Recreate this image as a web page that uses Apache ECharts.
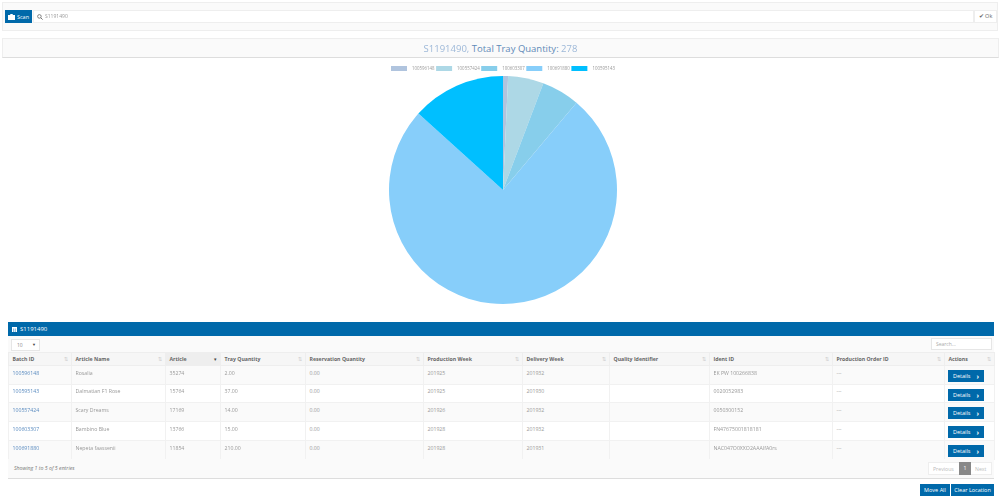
<!DOCTYPE html>
<html>
<head>
<meta charset="utf-8">
<script src="https://cdn.jsdelivr.net/npm/echarts@6/dist/echarts.min.js"></script>
<style>
html, body { margin: 0; padding: 0; width: 1000px; height: 498px; background: #fff; overflow: hidden; font-family: "Open Sans", sans-serif; color: #777; }
.abs { position: absolute; box-sizing: border-box; }
.well { background: #fafafa; border: 1px solid #eee; }
.btn { background: #0069aa; color: #fff; font-size: 5.5px; display: flex; align-items: center; justify-content: center; gap: 2px; }
.blur { filter: blur(0.7px); display: inline-block; }
#chart { position: absolute; left: 0; top: 58px; width: 1000px; height: 262px; }
#table { position: absolute; left: 8px; top: 352px; width: 986px; border-collapse: collapse; table-layout: fixed; font-size: 5.2px; }
#table th { height: 13px; box-sizing: border-box; padding: 0 0 0 3.5px; text-align: left; background: #f6f6f6; color: #666; font-weight: 700; border: 1px solid #eee; position: relative; }
#table th.sorted { background: #eee; }
#table th span { position: absolute; right: 3px; top: 3px; color: #ccc; font-weight: 400; font-size: 5px; }
#table th.sorted span { color: #444; }
#table td { padding: 0 0 5px 3.5px; box-sizing: border-box; border: 1px solid #f1f1f1; color: #999; position: relative; }
#table tr:nth-child(odd) td { background: #fafafa; }
#table td a { color: #5b8cc0; }
.detail { position: absolute; left: 3px; top: 4px; width: 36px; height: 12px; gap: 6px; }
.detail b { font-size: 7px; font-weight: 700; line-height: 7px; }
</style>
</head>
<body>
<div class="abs well" style="left:2px;top:2px;width:996px;height:29px"></div>
<div class="abs btn" style="left:5px;top:10px;width:27px;height:13px">
  <svg width="7" height="6" viewBox="0 0 7 6"><path d="M0 1h2l.5-1h2l.5 1h2v5H0z" fill="#fff"/></svg>Scan
</div>
<div class="abs" style="left:33px;top:10px;width:941px;height:13px;background:#fff;border:1px solid #eee;font-size:5px;line-height:11px;padding-left:11px;color:#999">
  <svg style="position:absolute;left:3px;top:3px" width="6" height="6" viewBox="0 0 6 6"><circle cx="2.4" cy="2.4" r="1.8" fill="none" stroke="#666" stroke-width=".8"/><path d="M3.8 3.8L5.6 5.6" stroke="#666" stroke-width=".9"/></svg>
  <span class="blur">S1191490</span>
</div>
<div class="abs" style="left:974px;top:10px;width:23px;height:13px;background:#fff;border:1px solid #eee;font-size:5.5px;line-height:11px;text-align:center;color:#666">✔ Ok</div>

<div class="abs well" style="left:2px;top:38px;width:997px;height:20px;border-bottom:1px solid #ddd;text-align:center;font-size:9.5px;line-height:20px;color:#5f8ab8">
  <span class="blur" style="color:#9db8d8">S1191490,</span> Total Tray Quantity: <span class="blur" style="color:#9db8d8">278</span>
</div>

<div id="chart"></div>

<div class="abs" style="left:8px;top:322px;width:986px;height:14px;background:#0069aa;color:#fff;font-size:6px;line-height:14px;padding-left:12px">
  <svg style="position:absolute;left:4px;top:4.5px" width="5" height="5" viewBox="0 0 5 5"><path d="M0 0h5v5H0z" fill="#fff"/><path d="M1.6 1.5v3.5M3.3 1.5v3.5" stroke="#0069aa" stroke-width=".5"/></svg>S1191490
</div>
<div class="abs" style="left:8px;top:336px;width:986px;height:16px;background:#fafafa"></div>
<div class="abs" style="left:11px;top:339px;width:29px;height:12px;background:#fff;border:1px solid #e6e6e6;font-size:5px;line-height:10px;padding-left:5px;color:#888">10<span style="position:absolute;right:3px;font-size:4px;color:#444">▼</span></div>
<div class="abs" style="left:931px;top:338px;width:61px;height:12px;background:#fff;border:1px solid #e6e6e6;font-size:5px;line-height:10px;padding-left:4px;color:#aaa">Search...</div>

<table id="table"><colgroup id="cols"></colgroup><thead><tr id="head"></tr></thead><tbody id="body"></tbody></table>

<div class="abs" style="left:8px;top:459px;width:986px;height:20px;background:#fafafa;border-bottom:1px solid #ddd;font-size:5.2px;line-height:18px;padding-left:6px;font-style:italic;color:#777">Showing 1 to 5 of 5 entries</div>
<div class="abs" style="left:928px;top:462px;width:64px;height:13px;background:#fff;border:1px solid #eee;font-size:5.2px;line-height:12px;color:#bbb">
  <span style="position:absolute;left:4px">Previous</span>
  <span style="position:absolute;left:30px;top:-1px;width:12px;height:13px;background:#888;color:#fff;text-align:center">1</span>
  <span style="position:absolute;left:46px">Next</span>
</div>
<div class="abs btn" style="left:920px;top:484px;width:30px;height:12px">Move All</div>
<div class="abs btn" style="left:951px;top:484px;width:43px;height:12px">Clear Location</div>

<script>
var batchIds = ["100596148", "100595143", "100557424", "100603307", "100691880"];
var articleNames = ["Rosalia", "Dalmatian F1 Rose", "Scary Dreams", "Bambino Blue", "Nepeta faassenii"];
var articles = ["35274", "15764", "17169", "13766", "11854"];
var trayQuantities = ["2.00", "37.00", "14.00", "15.00", "210.00"];
var productionWeeks = ["201925", "201925", "201926", "201928", "201928"];
var deliveryWeeks = ["201932", "201930", "201932", "201932", "201931"];
var identIds = ["EK PW 100266838", "0020052983", "0050300152", "FN47675001818181", "NAC047O0XXO2AAAIfA0rs"];
var columnNames = ["Batch ID", "Article Name", "Article", "Tray Quantity", "Reservation Quantity", "Production Week", "Delivery Week", "Quality Identifier", "Ident ID", "Production Order ID", "Actions"];
var columnWidths = [63, 94, 55, 85, 118, 99, 87, 100, 123, 112, 50];
var rowHeights = [19, 18, 19, 19, 19];

var pieLabels = ["100596148", "100557424", "100603307", "100691880", "100595143"];
var pieValues = [2, 14, 15, 210, 37];
var pieColors = ["#B0C4DE", "#ADD8E6", "#87CEEB", "#87CEFA", "#00BFFF"];

var cols = "", head = "", body = "";
for (var c = 0; c < columnNames.length; c++) {
    cols += '<col style="width:' + columnWidths[c] + 'px">';
    head += '<th' + (c == 2 ? ' class="sorted"' : '') + '>' + columnNames[c] + '<span>' + (c == 2 ? '▾' : '⇅') + '</span></th>';
}
for (var i = 0; i < batchIds.length; i++) {
    body += '<tr style="height:' + rowHeights[i] + 'px">'
        + '<td><a class="blur">' + batchIds[i] + '</a></td>'
        + '<td><span class="blur">' + articleNames[i] + '</span></td>'
        + '<td><span class="blur">' + articles[i] + '</span></td>'
        + '<td><span class="blur">' + trayQuantities[i] + '</span></td>'
        + '<td>0.00</td>'
        + '<td>' + productionWeeks[i] + '</td>'
        + '<td>' + deliveryWeeks[i] + '</td>'
        + '<td></td>'
        + '<td><span class="blur">' + identIds[i] + '</span></td>'
        + '<td>---</td>'
        + '<td><div class="btn detail">Details<b>›</b></div></td>'
        + '</tr>';
}
document.getElementById("cols").innerHTML = cols;
document.getElementById("head").innerHTML = head;
document.getElementById("body").innerHTML = body;

var myChart = echarts.init(document.getElementById("chart"));
var pieData = [];
for (var index = 0; index < pieValues.length; index++) {
    pieData.push({ name: pieLabels[index], value: pieValues[index] });
}
myChart.setOption({
    animation: false,
    color: pieColors,
    legend: {
        top: 3,
        left: 386,
        itemWidth: 16,
        itemHeight: 5,
        itemGap: 1.5,
        icon: "rect",
        textStyle: { fontSize: 4.4, color: "#999", fontFamily: "Open Sans" },
        data: pieLabels
    },
    series: [{
        type: "pie",
        center: [503, 132],
        radius: [0, 114],
        startAngle: 90,
        label: { show: false },
        labelLine: { show: false },
        itemStyle: { borderWidth: 0 },
        data: pieData
    }]
});
</script>
</body>
</html>
